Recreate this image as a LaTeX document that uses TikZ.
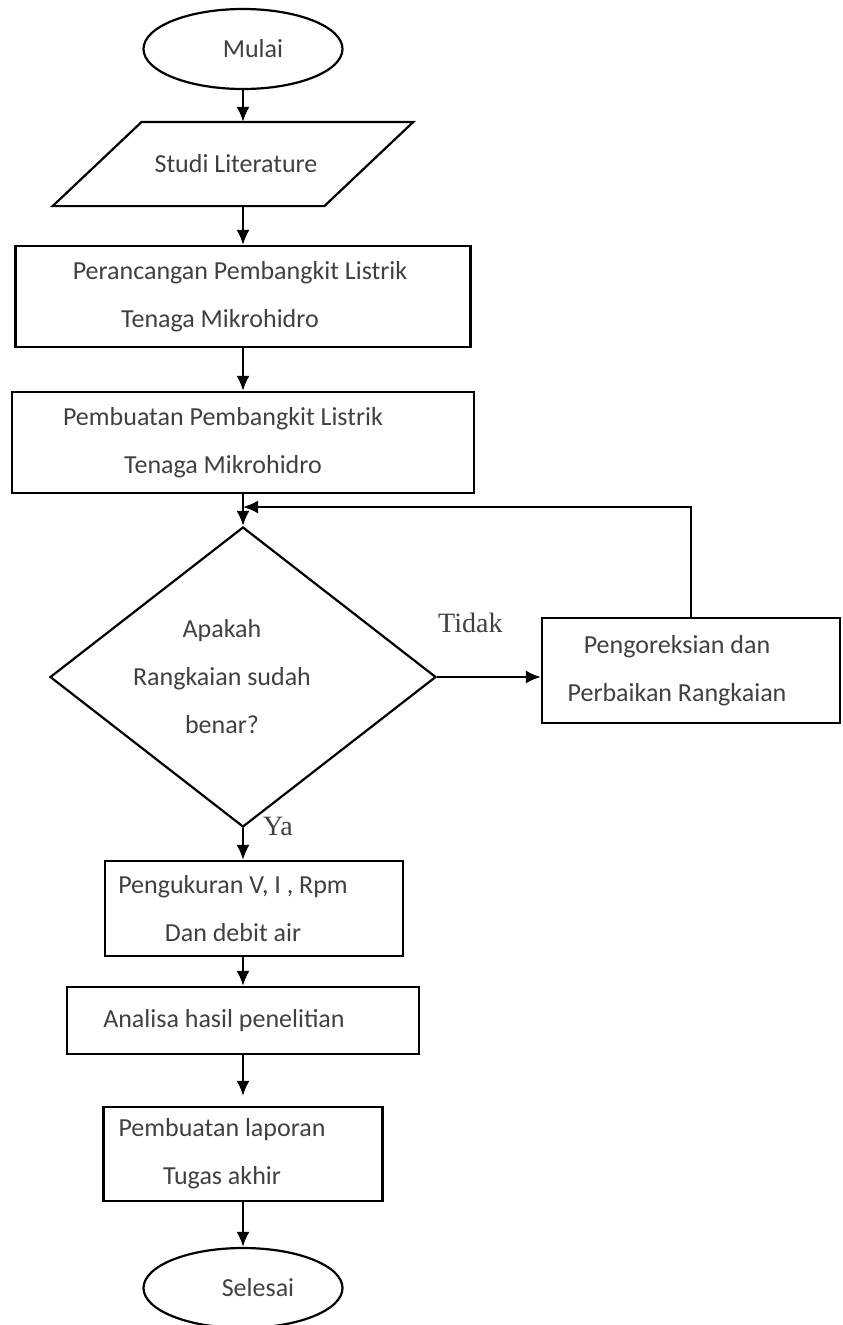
\documentclass[tikz,border=0pt]{standalone}
\usepackage{fontspec}
\setmainfont{Carlito}
\newfontfamily\serifkata{Liberation Serif}
\usepackage{xcolor}
\definecolor{tinta}{rgb}{0.25,0.25,0.25}
\usepackage{tikz}
\usetikzlibrary{shapes}
\usetikzlibrary{shapes.geometric}
\usetikzlibrary{arrows}
\usetikzlibrary{arrows.meta}
\usetikzlibrary{positioning}
\newcommand{\geser}[1]{\kern#1pt\relax}
\tikzstyle{garis} = [draw=black, line width=2.2pt]
\tikzstyle{teks} = [font={\fontsize{26}{48}\selectfont}, text=tinta, align=center, inner sep=0pt]
\tikzstyle{terminal} = [ellipse, minimum width=199pt, minimum height=80pt, garis, teks]
\tikzstyle{io} = [rectangle, minimum width=269.5pt, minimum height=82pt, teks]
\tikzstyle{proses} = [rectangle, garis, teks]
\tikzstyle{keputusan} = [diamond, minimum width=386pt, minimum height=300pt, garis, teks]
\tikzstyle{jawab} = [font={\serifkata\fontsize{28}{30}\selectfont}, text=tinta, inner sep=0pt]
\begin{document}
\begin{tikzpicture}[x=1pt, y=-1pt, >={Latex[length=15pt,width=13pt]}, line width=2.2pt]
                \useasboundingbox (0,0) rectangle (843,1325);
                \draw
                    (243,49) node [terminal] (mulai) {\geser{20}Mulai}
                    +(-10,115)
                    node [io] (studi) {\geser{6}Studi Literature}
                    +(0,247.5)
                    node [proses, minimum width=455pt, minimum height=101pt] (rancang)
                        {\geser{-6}Perancangan Pembangkit Listrik\\ \geser{-46}Tenaga Mikrohidro}
                    +(0,393.5)
                    node [proses, minimum width=462pt, minimum height=101pt] (buat)
                        {\geser{-40}Pembuatan Pembangkit Listrik\\ \geser{-40}Tenaga Mikrohidro}
                    +(0,628)
                    node [keputusan] (cek)
                        {\geser{-42}Apakah\\ \geser{-42}Rangkaian sudah\\ \geser{-42}benar?}
                    +(448,621.5)
                    node [proses, minimum width=298pt, minimum height=105pt] (koreksi)
                        {\geser{-28}Pengoreksian dan\\ \geser{-28}Perbaikan Rangkaian}
                    +(11,859.5)
                    node [proses, minimum width=298pt, minimum height=95pt] (ukur)
                        {\geser{-42}Pengukuran V, I , Rpm\\ \geser{-42}Dan debit air}
                    +(0,971.5)
                    node [proses, minimum width=352pt, minimum height=67pt] (analisa)
                        {\geser{-38}Analisa hasil penelitian}
                    +(0,1105)
                    node [proses, minimum width=279pt, minimum height=94pt] (laporan)
                        {\geser{-42}Pembuatan laporan\\ \geser{-42}Tugas akhir}
                    +(0,1239)
                    node [terminal] (selesai) {\geser{30}Selesai};
                % jajar genjang untuk studi literatur
                \draw[garis] ([xshift=-44.5pt]studi.south west) -- ([xshift=44.5pt]studi.north west)
                    -- ([xshift=44.5pt]studi.north east) -- ([xshift=-44.5pt]studi.south east) -- cycle;
                \coordinate (gabung) at (243,507);
                \draw[->] (mulai.south) -- (mulai.south |- studi.north);
                \draw[->] (studi.south -| rancang) -- (rancang);
                \draw[->] (rancang) -- (buat);
                \draw[->] (buat) -- (cek);
                \draw[->] (cek.east) -- node[jawab, pos=0.32, yshift=54pt] {Tidak} (cek.east -| koreksi.west);
                \draw[->] (koreksi.north) |- (gabung);
                \draw[->] (cek) -- node[jawab, pos=0, xshift=35pt, yshift=2pt] {Ya} (cek |- ukur.north);
                \draw[->] (ukur.south -| analisa) -- (analisa);
                \draw[->, shorten >=10pt] (analisa) -- (laporan);
                \draw[->] (laporan) -- (selesai);
            \end{tikzpicture}
\end{document}
